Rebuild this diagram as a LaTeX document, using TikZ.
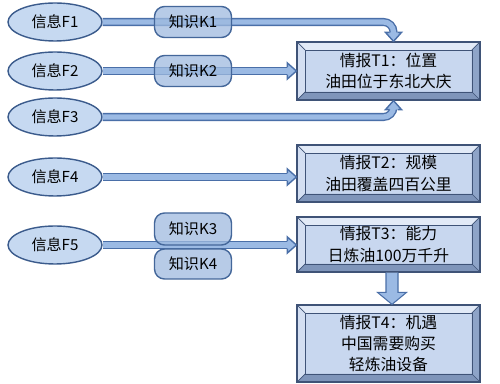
\documentclass[tikz,border=0pt]{standalone}
\usepackage{fontspec}
\newfontfamily\cjk{Noto Sans CJK SC}
\usetikzlibrary{calc,shapes.geometric}
\definecolor{ellfill}{HTML}{C6D9F1}
\definecolor{ellline}{HTML}{3B5B8C}
\definecolor{pipefill}{HTML}{9BBAE4}
\definecolor{pipeline}{HTML}{4A6FA8}
\definecolor{kfill}{HTML}{9FBADF}
\definecolor{kline}{HTML}{44679A}
\definecolor{tface}{HTML}{C8D7EF}
\definecolor{tline}{HTML}{3F5377}
\definecolor{bevtop}{HTML}{E2EAF7}
\definecolor{bevleft}{HTML}{D4DFF2}
\definecolor{bevright}{HTML}{8EA4C8}
\definecolor{bevbot}{HTML}{7F95BA}
\tikzset{
  info/.style={ellipse, draw=ellline, line width=0.8pt, fill=ellfill,
    minimum width=1.88cm, minimum height=0.76cm, inner sep=0pt, font=\cjk\fontsize{8.6}{9}\selectfont},
  know/.style={rectangle, rounded corners=0.2cm, draw=kline, line width=0.8pt, fill=kfill,
    fill opacity=0.75, text opacity=1, minimum width=1.54cm, minimum height=0.62cm, inner sep=0pt,
    font=\cjk\fontsize{8.6}{9}\selectfont},
  pipe/.style={double=pipefill, double distance=0.105cm, line width=0.028cm, draw=pipeline},
  headst/.style={fill=pipefill},
  headln/.style={draw=pipeline, line width=0.028cm, line join=miter},
  tbox/.style={rectangle, draw=tline, line width=0.7pt, fill=tface, minimum width=3.66cm,
    align=center, inner sep=0pt, font=\cjk\fontsize{9}{12}\selectfont,
    path picture={
      \coordinate (pnw) at (path picture bounding box.north west);
      \coordinate (pne) at (path picture bounding box.north east);
      \coordinate (psw) at (path picture bounding box.south west);
      \coordinate (pse) at (path picture bounding box.south east);
      \coordinate (inw) at ([shift={(0.16cm,-0.16cm)}]pnw);
      \coordinate (ine) at ([shift={(-0.16cm,-0.16cm)}]pne);
      \coordinate (isw) at ([shift={(0.16cm,0.16cm)}]psw);
      \coordinate (ise) at ([shift={(-0.16cm,0.16cm)}]pse);
      \fill[bevtop] (pnw) -- (pne) -- (ine) -- (inw) -- cycle;
      \fill[bevleft] (pnw) -- (psw) -- (isw) -- (inw) -- cycle;
      \fill[bevright] (pne) -- (pse) -- (ise) -- (ine) -- cycle;
      \fill[bevbot] (psw) -- (pse) -- (ise) -- (isw) -- cycle;
      \draw[tline, line width=0.4pt] (inw) rectangle (ise);
      \draw[tline, line width=0.4pt] (pnw) -- (inw) (pne) -- (ine) (psw) -- (isw) (pse) -- (ise);
    }},
  blockarrow/.style={fill=pipefill, draw=pipeline, line width=0.6pt, line join=miter}
}
% arrowheads: tip at #1
\newcommand\myheadR[1]{%
  \fill[headst] (#1) -- ++(-9,-8) -- ++(0,16) -- cycle;
  \draw[headln] (#1) -- ++(-9,-8) -- ++(0,4);
  \draw[headln] (#1) -- ++(-9,8) -- ++(0,-4);}
\newcommand\myheadD[1]{%
  \fill[headst] (#1) -- ++(-8,-9) -- ++(16,0) -- cycle;
  \draw[headln] (#1) -- ++(-8,-9) -- ++(4,0);
  \draw[headln] (#1) -- ++(8,-9) -- ++(-4,0);}
\newcommand\myheadU[1]{%
  \fill[headst] (#1) -- ++(-8,9) -- ++(16,0) -- cycle;
  \draw[headln] (#1) -- ++(-8,9) -- ++(4,0);
  \draw[headln] (#1) -- ++(8,9) -- ++(-4,0);}
\begin{document}
\begin{tikzpicture}[x=0.02cm, y=-0.02cm]
\useasboundingbox[fill=white] (0,0) rectangle (500,384);
% info ellipses
\node[info] (F1) at (55,22) {信息F1};
\node[info] (F2) at (55,71) {信息F2};
\node[info] (F3) at (55,117) {信息F3};
\node[info] (F4) at (55,177) {信息F4};
\node[info] (F5) at (55,245) {信息F5};
% intelligence boxes
\node[tbox, minimum height=1.16cm] (T1) at (388.5,71) {情报T1：位置\\油田位于东北大庆};
\node[tbox, minimum height=1.14cm] (T2) at (388.5,173.5) {情报T2：规模\\油田覆盖四百公里};
\node[tbox, minimum height=1.10cm] (T3) at (388.5,244.5) {情报T3：能力\\日炼油100万千升};
\node[tbox, minimum height=1.54cm] (T4) at (388.5,343.5) {情报T4：机遇\\中国需要购买\\轻炼油设备};
% tip coordinates
\coordinate (t1n) at ($(T1.north)+(5,0)$);
\coordinate (t1s) at ($(T1.south)+(5,0)$);
% pipes
\draw[pipe, rounded corners=0.2cm] (F1.east) -| ($(t1n)+(0,-8.5)$);
\myheadD{t1n}
\draw[pipe, rounded corners=0.2cm] (F3.east) -| ($(t1s)+(0,8.5)$);
\myheadU{t1s}
\draw[pipe] (F2.east) -- ($(T1.west|-F2.east)+(-8.5,0)$);
\myheadR{T1.west|-F2.east}
\draw[pipe] (F4.east) -- ($(T2.west|-F4.east)+(-8.5,0)$);
\myheadR{T2.west|-F4.east}
\draw[pipe] (F5.east) -- ($(T3.west|-F5.east)+(-8.5,0)$);
\myheadR{T3.west|-F5.east}
% knowledge boxes
\node[know] (K1) at (193,22) {知识K1};
\node[know] (K2) at (193,71) {知识K2};
\node[know, minimum height=0.64cm] (K3) at (193,229) {知识K3};
\node[know, minimum height=0.60cm] (K4) at (193,264) {知识K4};
% block arrow T3 -> T4
\draw[blockarrow] ($(T3.south)+(-2.5,0)$) -- ($(T4.north)+(-2.5,-12)$) -- ($(T4.north)+(-11,-12)$)
  -- ($(T4.north)+(3.5,0)$) -- ($(T4.north)+(18,-12)$) -- ($(T4.north)+(9.5,-12)$)
  -- ($(T3.south)+(9.5,0)$);
\end{tikzpicture}
\end{document}
